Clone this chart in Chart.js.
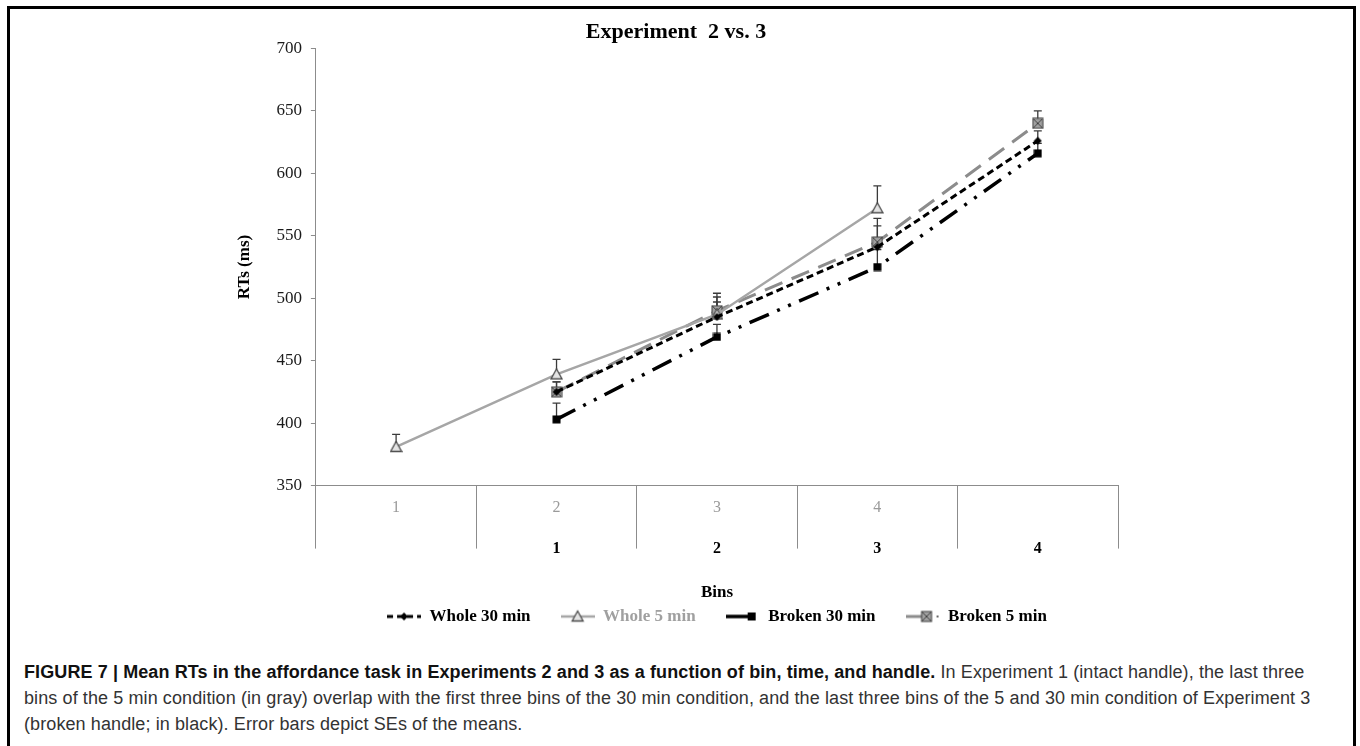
<!DOCTYPE html>
<html>
<head>
<meta charset="utf-8">
<script src="https://cdn.jsdelivr.net/npm/chart.js@4.4.1/dist/chart.umd.min.js"></script>
<style>
  html, body { margin: 0; padding: 0; background: #fff; overflow: hidden; width: 1360px; height: 746px; }
  #frame { position: absolute; left: 7px; top: 6px; width: 1343px; height: 800px; border: 3px solid #000; }
  #chartBox { position: absolute; left: 200px; top: 9px; }
  #caption { position: absolute; left: 24px; top: 659px; font-family: "Liberation Sans", Arial, sans-serif;
             font-size: 18px; letter-spacing: 0.1px; line-height: 26px; color: #333; white-space: nowrap; }
  #caption b { color: #111; }
</style>
</head>
<body>
<div id="frame"></div>
<div id="chartBox"><canvas id="myChart" width="946" height="626"></canvas></div>
<div id="caption">
  <b>FIGURE 7 | Mean RTs in the affordance task in Experiments 2 and 3 as a function of bin, time, and handle.</b> In Experiment 1 (intact handle), the last three<br>
  bins of the 5 min condition (in gray) overlap with the first three bins of the 30 min condition, and the last three bins of the 5 and 30 min condition of Experiment 3<br>
  (broken handle; in black). Error bars depict SEs of the means.
</div>
<script>
// five category slots on the x axis, two rows of bin labels
var slots = ['s1', 's2', 's3', 's4', 's5'];
var topLabels = ['1', '2', '3', '4', ''];
var bottomLabels = ['', '1', '2', '3', '4'];

var seriesNames = ['Whole 30 min', 'Whole 5 min', 'Broken 30 min', 'Broken 5 min'];
var whole30 = [null, 425, 485, 541, 626];
var whole5 = [381, 439, 487, 572, null];
var broken30 = [null, 403, 469, 525, 616];
var broken5 = [null, 425, 490, 545, 640];

// standard errors (upper bars only)
var whole30Err = [null, 8, 12, 17, 8];
var whole5Err = [10, 12, 17, 18, null];
var broken30Err = [null, 13, 10, 14, 8];
var broken5Err = [null, 8, 11, 19, 10];

var serif = '"Liberation Serif", "Times New Roman", serif';

function makeCanvas(w, h, draw) {
    var c = document.createElement('canvas');
    c.width = w; c.height = h;
    draw(c.getContext('2d'));
    return c;
}

// markers
function drawDiamond(g, cx, cy) {
    g.fillStyle = '#000';
    g.beginPath();
    g.moveTo(cx, cy - 4); g.lineTo(cx + 4, cy); g.lineTo(cx, cy + 4); g.lineTo(cx - 4, cy);
    g.closePath(); g.fill();
}
function drawTriangle(g, cx, cy) {
    g.fillStyle = '#e4e4e4'; g.strokeStyle = '#4a4a4a'; g.lineWidth = 1.3;
    g.beginPath();
    g.moveTo(cx, cy - 5.5); g.lineTo(cx + 5.5, cy + 4.5); g.lineTo(cx - 5.5, cy + 4.5);
    g.closePath(); g.fill(); g.stroke();
}
function drawSquare(g, cx, cy) {
    g.fillStyle = '#000';
    g.fillRect(cx - 4, cy - 4, 8, 8);
}
function drawXSquare(g, cx, cy) {
    g.fillStyle = '#a0a0a0'; g.strokeStyle = '#404040'; g.lineWidth = 1;
    g.fillRect(cx - 5, cy - 5, 10, 10);
    g.strokeRect(cx - 5, cy - 5, 10, 10);
    g.beginPath();
    g.moveTo(cx - 5, cy - 5); g.lineTo(cx + 5, cy + 5);
    g.moveTo(cx + 5, cy - 5); g.lineTo(cx - 5, cy + 5);
    g.stroke();
}

var diamondImg = makeCanvas(9, 9, function (g) { drawDiamond(g, 4.5, 4.5); });
var triangleImg = makeCanvas(13, 12, function (g) { drawTriangle(g, 6.5, 6); });
var squareImg = makeCanvas(9, 9, function (g) { drawSquare(g, 4.5, 4.5); });
var xSquareImg = makeCanvas(12, 12, function (g) { drawXSquare(g, 6, 6); });

// legend symbols: a short line sample with the series marker
function legendSymbol(kind) {
    return makeCanvas(34, 16, function (g) {
        g.lineCap = 'butt';
        if (kind === 0) {
            g.strokeStyle = '#000'; g.lineWidth = 3; g.setLineDash([6, 4]);
            g.beginPath(); g.moveTo(0, 8); g.lineTo(34, 8); g.stroke();
            g.setLineDash([]); drawDiamond(g, 17, 8);
        } else if (kind === 1) {
            g.strokeStyle = '#a6a6a6'; g.lineWidth = 2.5;
            g.beginPath(); g.moveTo(0, 8); g.lineTo(34, 8); g.stroke();
            drawTriangle(g, 17, 8);
        } else if (kind === 2) {
            g.strokeStyle = '#000'; g.lineWidth = 3.5;
            g.beginPath(); g.moveTo(0, 8); g.lineTo(22, 8); g.stroke();
            drawSquare(g, 26, 8);
        } else {
            g.strokeStyle = '#8c8c8c'; g.lineWidth = 3;
            g.beginPath(); g.moveTo(0, 8); g.lineTo(18, 8); g.stroke();
            drawXSquare(g, 21, 8);
            g.fillStyle = '#666'; g.fillRect(31, 7, 2, 2);
        }
    });
}
var legendSymbols = [legendSymbol(0), legendSymbol(1), legendSymbol(2), legendSymbol(3)];
var legendColors = ['#000', '#a0a0a0', '#000', '#000'];
var errorSets = [whole30Err, whole5Err, broken30Err, broken5Err];

var errorBars = {
    id: 'errorBars',
    beforeDatasetsDraw: function (chart) {
        var ctx = chart.ctx, y = chart.scales.y;
        ctx.save();
        ctx.strokeStyle = '#3a3a3a';
        ctx.lineWidth = 1.3;
        chart.data.datasets.forEach(function (ds, i) {
            var meta = chart.getDatasetMeta(i);
            var errs = errorSets[i];
            meta.data.forEach(function (pt, j) {
                if (ds.data[j] == null || errs[j] == null) return;
                var top = y.getPixelForValue(ds.data[j] + errs[j]);
                ctx.beginPath();
                ctx.moveTo(pt.x, pt.y); ctx.lineTo(pt.x, top);
                ctx.moveTo(pt.x - 4, top); ctx.lineTo(pt.x + 4, top);
                ctx.stroke();
            });
        });
        ctx.restore();
    }
};

var twoRowLabels = {
    id: 'twoRowLabels',
    afterDraw: function (chart) {
        var x = chart.scales.x, ctx = chart.ctx;
        ctx.save();
        ctx.textAlign = 'center';
        ctx.textBaseline = 'middle';
        ctx.font = '16px ' + serif;
        ctx.fillStyle = '#9a9a9a';
        topLabels.forEach(function (t, i) { ctx.fillText(t, x.getPixelForValue(i), x.top + 22); });
        ctx.font = 'bold 16px ' + serif;
        ctx.fillStyle = '#000';
        bottomLabels.forEach(function (t, i) { ctx.fillText(t, x.getPixelForValue(i), x.top + 63); });
        ctx.restore();
    }
};

var ctx = document.getElementById('myChart').getContext('2d');
var myChart = new Chart(ctx, {
    type: 'line',
    data: {
        labels: slots,
        datasets: [{
            label: seriesNames[0],
            data: whole30,
            borderColor: '#000',
            borderWidth: 3,
            borderDash: [7, 4],
            pointStyle: diamondImg
        }, {
            label: seriesNames[1],
            data: whole5,
            borderColor: '#a6a6a6',
            borderWidth: 2.5,
            pointStyle: triangleImg
        }, {
            label: seriesNames[2],
            data: broken30,
            borderColor: '#000',
            borderWidth: 3.5,
            borderDash: [21, 9, 3, 9, 3, 9],
            pointStyle: squareImg
        }, {
            label: seriesNames[3],
            data: broken5,
            borderColor: '#8c8c8c',
            borderWidth: 3,
            borderDash: [19, 10],
            pointStyle: xSquareImg
        }]
    },
    options: {
        responsive: false,
        animation: false,
        layout: { padding: { left: 34, right: 28, top: 0, bottom: 0 } },
        elements: { line: { tension: 0, fill: false }, point: { radius: 5 } },
        scales: {
            x: {
                offset: true,
                ticks: { display: false },
                grid: { offset: true, drawOnChartArea: false, tickLength: 63, color: '#8c8c8c' },
                border: { color: '#8c8c8c' },
                title: {
                    display: true, text: 'Bins', color: '#000',
                    font: { family: serif, size: 17, weight: 'bold' },
                    padding: { top: 34, bottom: -25 } // pulls the legend up under the title
                }
            },
            y: {
                min: 350,
                max: 700,
                ticks: { stepSize: 50, padding: 9, color: '#1a1a1a', font: { family: serif, size: 17 } },
                grid: { drawOnChartArea: false, tickLength: 5, color: '#8c8c8c' },
                border: { color: '#8c8c8c' },
                title: {
                    display: true, text: 'RTs (ms)', color: '#000',
                    font: { family: serif, size: 17, weight: 'bold' },
                    padding: { top: 0, bottom: 13 }
                }
            }
        },
        plugins: {
            title: {
                display: true,
                text: 'Experiment  2 vs. 3',
                color: '#000',
                font: { family: serif, size: 22, weight: 'bold' },
                padding: { top: 10, bottom: 3 }
            },
            legend: {
                position: 'bottom',
                fullSize: false,
                labels: {
                    usePointStyle: true,
                    pointStyleWidth: 34,
                    padding: 30,
                    color: '#000',
                    font: { family: serif, size: 17, weight: 'bold' },
                    generateLabels: function (chart) {
                        return chart.data.datasets.map(function (ds, i) {
                            return {
                                text: ds.label,
                                fontColor: legendColors[i],
                                pointStyle: legendSymbols[i],
                                fillStyle: 'rgba(0,0,0,0)',
                                strokeStyle: 'rgba(0,0,0,0)',
                                lineWidth: 0,
                                hidden: false,
                                datasetIndex: i
                            };
                        });
                    }
                }
            },
            tooltip: { enabled: false }
        }
    },
    plugins: [errorBars, twoRowLabels]
});
</script>
</body>
</html>
